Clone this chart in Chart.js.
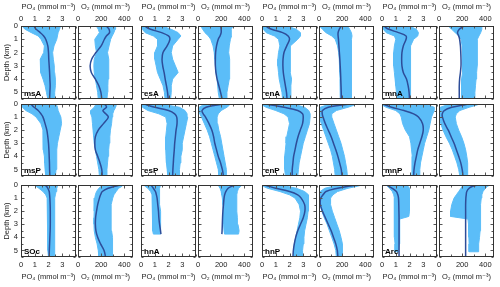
<!DOCTYPE html>
<html lang="en">
<head>
<meta charset="UTF-8">
<title>PO4 and O2 profiles by region</title>
<script src="https://cdn.jsdelivr.net/npm/chart.js"></script>
<style>
  body { margin: 0; background: #fff; }
  #wrap { position: relative; width: 500px; height: 287px; overflow: hidden; }
  #wrap canvas { position: absolute; }
</style>
</head>
<body>
<div id="wrap"></div>
<script>
// depth levels in km
const depth    = [0, 0.1, 0.25, 0.5, 0.75, 1, 1.5, 2, 2.5, 3, 3.5, 4, 4.5, 5, 5.5];
const depthHnA = [0, 0.1, 0.25, 0.5, 0.75, 1, 1.5, 2, 2.5, 3, 3.5, 3.75];
const depthArc = [0, 0.1, 0.25, 0.5, 0.75, 1, 1.5, 2, 2.4, 2.6, 3, 3.5, 4, 4.5, 5, 5.1];

// tick labels
const depthTicks = [0, 1, 2, 3, 4, 5];
const po4Ticks = [0, 1, 2, 3];
const o2Ticks = [0, 200, 400];

// mean profile (line) and spread of observations (lo/hi) per region
const msA_po4    = [0.95, 1.0, 1.1, 1.4, 1.65, 1.8, 1.95, 2.0, 2.02, 2.05, 2.08, 2.1, 2.12, 2.1, 2.08];
const msA_po4_lo = [0.1, 0.15, 0.3, 0.75, 1.25, 1.45, 1.7, 1.65, 1.4, 1.4, 1.45, 1.6, 1.75, 1.85, 1.95];
const msA_po4_hi = [2.85, 2.85, 2.8, 2.7, 2.65, 2.6, 2.4, 2.3, 2.35, 2.42, 2.45, 2.5, 2.5, 2.45, 2.42];
const msA_o2     = [247, 255, 268, 272, 245, 228, 200, 155, 118, 105, 115, 150, 180, 198, 205];
const msA_o2_lo  = [160, 165, 175, 185, 165, 145, 150, 160, 140, 137, 140, 150, 160, 170, 175];
const msA_o2_hi  = [330, 325, 320, 310, 295, 282, 268, 255, 265, 267, 265, 260, 258, 255, 250];

const esA_po4    = [0.3, 0.4, 0.7, 1.5, 2.0, 2.1, 1.9, 1.6, 1.53, 1.58, 1.68, 1.76, 1.85, 1.93, 1.98];
const esA_po4_lo = [0.05, 0.05, 0.1, 0.3, 0.9, 1.2, 1.2, 1.0, 1.0, 1.1, 1.2, 1.4, 1.6, 1.7, 1.75];
const esA_po4_hi = [1.6, 1.8, 2.2, 2.7, 2.9, 2.7, 2.3, 2.2, 2.3, 2.5, 2.7, 2.3, 2.2, 2.2, 2.15];
const esA_o2     = [198, 198, 200, 200, 190, 175, 160, 152, 150, 150, 155, 165, 180, 195, 208];
const esA_o2_lo  = [20, 30, 40, 60, 90, 110, 130, 140, 145, 150, 155, 165, 170, 175, 185];
const esA_o2_hi  = [300, 295, 290, 285, 290, 280, 270, 265, 270, 275, 275, 270, 260, 250, 245];

const enA_po4    = [0.3, 0.4, 0.7, 1.5, 1.9, 2.0, 1.8, 1.6, 1.53, 1.52, 1.55, 1.62, 1.7, 1.78, 1.82];
const enA_po4_lo = [0.02, 0.05, 0.1, 0.3, 0.9, 1.2, 1.3, 1.2, 1.15, 1.15, 1.2, 1.25, 1.35, 1.45, 1.5];
const enA_po4_hi = [1.9, 2.1, 2.5, 2.8, 2.8, 2.6, 2.1, 2.05, 2.05, 2.05, 2.05, 2.15, 2.1, 2.1, 2.05];
const enA_o2     = [190, 185, 175, 165, 165, 168, 172, 176, 180, 183, 186, 188, 190, 192, 193];
const enA_o2_lo  = [10, 15, 30, 60, 110, 140, 160, 170, 175, 178, 180, 182, 185, 185, 185];
const enA_o2_hi  = [250, 255, 265, 280, 285, 280, 278, 278, 280, 280, 282, 282, 282, 282, 280];

const mnA_po4    = [0.2, 0.25, 0.5, 1.2, 1.75, 1.75, 1.55, 1.45, 1.43, 1.45, 1.55, 1.78, 1.9, 1.97, 2.0];
const mnA_po4_lo = [0.05, 0.05, 0.1, 0.3, 0.9, 1.0, 0.9, 0.85, 0.85, 0.85, 0.9, 0.95, 1.0, 1.05, 1.1];
const mnA_po4_hi = [2.0, 2.2, 2.5, 2.65, 2.6, 2.3, 2.1, 2.05, 2.05, 2.05, 2.08, 2.1, 2.1, 2.08, 2.05];
const mnA_o2     = [215, 200, 175, 160, 170, 178, 185, 188, 190, 190, 185, 178, 175, 175, 175];
const mnA_o2_lo  = [80, 90, 110, 140, 170, 190, 200, 205, 205, 205, 200, 195, 195, 195, 195];
const mnA_o2_hi  = [360, 370, 370, 360, 345, 335, 330, 330, 330, 330, 325, 320, 315, 310, 305];

const msP_po4    = [0.75, 0.8, 0.95, 1.25, 1.45, 1.6, 1.75, 1.88, 1.95, 2.0, 2.03, 2.05, 2.07, 2.08, 2.1];
const msP_po4_lo = [0.02, 0.05, 0.1, 0.35, 0.8, 1.1, 1.45, 1.6, 1.6, 1.62, 1.65, 1.7, 1.72, 1.75, 1.8];
const msP_po4_hi = [2.55, 2.6, 2.65, 2.7, 2.8, 2.9, 2.95, 2.85, 2.75, 2.65, 2.6, 2.6, 2.6, 2.55, 2.5];
const msP_o2     = [225, 240, 245, 215, 240, 262, 220, 175, 150, 145, 150, 170, 190, 205, 210];
const msP_o2_lo  = [150, 150, 140, 110, 110, 120, 125, 130, 135, 140, 150, 160, 170, 180, 185];
const msP_o2_hi  = [330, 330, 325, 310, 300, 295, 290, 280, 275, 270, 265, 260, 255, 250, 245];

const esP_po4    = [0.3, 0.5, 1.0, 2.0, 2.45, 2.6, 2.62, 2.55, 2.5, 2.45, 2.42, 2.38, 2.35, 2.32, 2.3];
const esP_po4_lo = [0.02, 0.05, 0.1, 0.5, 1.3, 1.8, 1.9, 1.85, 1.8, 1.8, 1.8, 1.82, 1.85, 1.9, 1.95];
const esP_po4_hi = [1.5, 2.0, 2.8, 3.2, 3.35, 3.4, 3.3, 3.2, 3.1, 3.0, 3.0, 2.9, 2.85, 2.8, 2.8];
const esP_o2     = [215, 150, 70, 35, 45, 65, 95, 120, 135, 145, 160, 175, 195, 210, 220];
const esP_o2_lo  = [100, 40, 10, 5, 15, 30, 55, 80, 100, 115, 130, 145, 160, 175, 180];
const esP_o2_hi  = [280, 270, 250, 200, 175, 165, 170, 180, 195, 205, 215, 225, 235, 245, 250];

const enP_po4    = [0.3, 0.8, 1.6, 2.6, 2.95, 3.0, 2.95, 2.78, 2.62, 2.5, 2.4, 2.3, 2.25, 2.2, 2.2];
const enP_po4_lo = [0.02, 0.05, 0.3, 1.0, 1.6, 1.9, 2.0, 1.9, 1.8, 1.75, 1.7, 1.65, 1.65, 1.65, 1.7];
const enP_po4_hi = [2.0, 2.6, 3.1, 3.4, 3.5, 3.5, 3.45, 3.3, 3.15, 3.0, 2.9, 2.8, 2.7, 2.65, 2.6];
const enP_o2     = [260, 180, 80, 30, 28, 35, 55, 80, 105, 125, 145, 163, 178, 192, 198];
const enP_o2_lo  = [150, 60, 10, 0, 0, 5, 20, 40, 60, 80, 100, 115, 125, 135, 140];
const enP_o2_hi  = [320, 300, 250, 150, 110, 110, 130, 150, 170, 190, 205, 220, 230, 240, 245];

const mnP_po4    = [0.1, 0.3, 0.7, 1.6, 2.3, 2.65, 2.95, 3.0, 2.9, 2.75, 2.6, 2.5, 2.4, 2.33, 2.3];
const mnP_po4_lo = [0.02, 0.05, 0.3, 1.0, 1.3, 1.4, 1.5, 1.7, 2.0, 2.1, 2.15, 2.2, 2.2, 2.2, 2.2];
const mnP_po4_hi = [2.5, 3.4, 3.8, 3.8, 3.7, 3.6, 3.5, 3.4, 3.25, 3.1, 3.0, 2.9, 2.8, 2.75, 2.7];
const mnP_o2     = [250, 200, 110, 45, 28, 30, 50, 80, 105, 130, 150, 170, 188, 200, 208];
const mnP_o2_lo  = [180, 60, 10, 0, 0, 5, 15, 35, 60, 90, 115, 135, 155, 170, 180];
const mnP_o2_hi  = [350, 320, 260, 180, 150, 140, 150, 170, 195, 215, 230, 240, 245, 250, 250];

const SOc_po4    = [1.75, 1.85, 1.95, 2.05, 2.08, 2.1, 2.12, 2.13, 2.13, 2.13, 2.12, 2.1, 2.08, 2.06, 2.05];
const SOc_po4_lo = [1.0, 1.1, 1.3, 1.6, 1.8, 1.9, 1.95, 1.95, 1.95, 1.95, 1.95, 1.95, 1.95, 1.95, 2.0];
const SOc_po4_hi = [2.7, 2.65, 2.6, 2.55, 2.5, 2.45, 2.45, 2.45, 2.45, 2.45, 2.45, 2.45, 2.45, 2.45, 2.45];
const SOc_o2     = [360, 320, 260, 210, 195, 185, 170, 160, 152, 150, 155, 170, 195, 225, 238];
const SOc_o2_lo  = [250, 200, 180, 160, 150, 145, 140, 140, 138, 138, 140, 150, 165, 175, 180];
const SOc_o2_hi  = [390, 380, 350, 330, 310, 300, 290, 285, 285, 285, 290, 295, 300, 300, 295];

const hnA_po4    = [0.75, 0.8, 0.9, 1.05, 1.12, 1.17, 1.22, 1.27, 1.3, 1.35, 1.42, 1.45];
const hnA_po4_lo = [0.2, 0.3, 0.5, 0.7, 0.8, 0.85, 0.85, 0.85, 0.85, 0.85, 0.85, 0.9];
const hnA_po4_hi = [1.4, 1.4, 1.35, 1.35, 1.35, 1.35, 1.35, 1.4, 1.4, 1.45, 1.45, 1.4];
const hnA_o2     = [320, 290, 260, 240, 230, 225, 220, 215, 212, 210, 208, 206];
const hnA_o2_lo  = [170, 180, 190, 200, 205, 210, 215, 218, 220, 222, 225, 230];
const hnA_o2_hi  = [380, 370, 350, 340, 335, 335, 335, 335, 340, 345, 355, 350];

const hnP_po4    = [0.2, 0.5, 1.0, 2.0, 2.6, 2.85, 3.1, 3.12, 3.0, 2.8, 2.6, 2.45, 2.35, 2.28, 2.25];
const hnP_po4_lo = [0.0, 0.1, 0.4, 1.3, 2.0, 2.4, 2.7, 2.8, 2.75, 2.65, 2.55, 2.45, 2.35, 2.3, 2.3];
const hnP_po4_hi = [1.2, 1.8, 2.5, 3.1, 3.35, 3.4, 3.4, 3.35, 3.3, 3.2, 3.1, 3.05, 3.0, 2.95, 2.95];
const hnP_o2     = [330, 250, 160, 60, 35, 15, 12, 30, 55, 80, 105, 125, 145, 158, 163];
const hnP_o2_lo  = [200, 120, 50, 10, 5, 5, 10, 25, 45, 70, 90, 110, 130, 145, 150];
const hnP_o2_hi  = [370, 330, 250, 160, 120, 100, 100, 115, 135, 155, 175, 190, 200, 205, 205];

const Arc_po4    = [0.35, 0.5, 0.75, 1.05, 1.15, 1.2, 1.22, 1.23, 1.24, 1.24, 1.24, 1.24, 1.24, 1.24, 1.24];
const Arc_po4_lo = [0.3, 0.4, 0.55, 0.75, 0.85, 0.9, 0.9, 0.9, 0.9, 0.9, 0.9, 0.9, 0.92, 0.95, 0.95, 0.95];
const Arc_po4_hi = [1.8, 1.9, 2.0, 2.0, 2.0, 2.0, 2.0, 2.0, 1.95, 1.3, 1.3, 1.3, 1.25, 1.25, 1.2, 1.2];
const Arc_o2     = [330, 290, 260, 240, 235, 232, 230, 230, 230, 230, 230, 230, 230, 230, 230];
const Arc_o2_lo  = [210, 200, 190, 170, 150, 130, 110, 100, 100, 250, 255, 258, 258, 260, 260, 260];
const Arc_o2_hi  = [440, 420, 400, 380, 370, 365, 360, 360, 360, 360, 355, 355, 350, 345, 340, 340];

// grid of regions, row by row
const panels = [
  { name: 'msA', ld: depth, cd: depth, po4: [msA_po4, msA_po4_lo, msA_po4_hi], o2: [msA_o2, msA_o2_lo, msA_o2_hi] },
  { name: 'esA', ld: depth, cd: depth, po4: [esA_po4, esA_po4_lo, esA_po4_hi], o2: [esA_o2, esA_o2_lo, esA_o2_hi] },
  { name: 'enA', ld: depth, cd: depth, po4: [enA_po4, enA_po4_lo, enA_po4_hi], o2: [enA_o2, enA_o2_lo, enA_o2_hi] },
  { name: 'mnA', ld: depth, cd: depth, po4: [mnA_po4, mnA_po4_lo, mnA_po4_hi], o2: [mnA_o2, mnA_o2_lo, mnA_o2_hi] },
  { name: 'msP', ld: depth, cd: depth, po4: [msP_po4, msP_po4_lo, msP_po4_hi], o2: [msP_o2, msP_o2_lo, msP_o2_hi] },
  { name: 'esP', ld: depth, cd: depth, po4: [esP_po4, esP_po4_lo, esP_po4_hi], o2: [esP_o2, esP_o2_lo, esP_o2_hi] },
  { name: 'enP', ld: depth, cd: depth, po4: [enP_po4, enP_po4_lo, enP_po4_hi], o2: [enP_o2, enP_o2_lo, enP_o2_hi] },
  { name: 'mnP', ld: depth, cd: depth, po4: [mnP_po4, mnP_po4_lo, mnP_po4_hi], o2: [mnP_o2, mnP_o2_lo, mnP_o2_hi] },
  { name: 'SOc', ld: depth, cd: depth, po4: [SOc_po4, SOc_po4_lo, SOc_po4_hi], o2: [SOc_o2, SOc_o2_lo, SOc_o2_hi] },
  { name: 'hnA', ld: depthHnA, cd: depthHnA, po4: [hnA_po4, hnA_po4_lo, hnA_po4_hi], o2: [hnA_o2, hnA_o2_lo, hnA_o2_hi] },
  { name: 'hnP', ld: depth, cd: depth, po4: [hnP_po4, hnP_po4_lo, hnP_po4_hi], o2: [hnP_o2, hnP_o2_lo, hnP_o2_hi] },
  { name: 'Arc', ld: depth, cd: depthArc, po4: [Arc_po4, Arc_po4_lo, Arc_po4_hi], o2: [Arc_o2, Arc_o2_lo, Arc_o2_hi] }
];

// layout
const colLeft = [21, 141, 262, 382];
const rowTop = [26, 104, 185];
const rowH = [73, 72, 72];
const subW = 55, subGap = 2, pageH = 287, m = 8;

const cloudColor = '#5bbdf8';
const lineColor = '#2d4d99';
const fontFam = "'Liberation Sans', Arial, 'DejaVu Sans', sans-serif";
const txt = '#222';

function pts(vals, dep) {
    return vals.map((v, i) => ({ x: v, y: dep[i] }));
}

function makeFrame(label, xMax, xStep, xMajor) {
    return {
        id: 'frame',
        afterDatasetsDraw(chart) {
            const { ctx, chartArea: a, scales } = chart;
            const L = Math.round(a.left) + 0.5, R = Math.round(a.right) - 0.5;
            const T = Math.round(a.top) + 0.5, B = Math.round(a.bottom) - 0.5;
            ctx.save();
            ctx.strokeStyle = '#555';
            ctx.lineWidth = 1;
            ctx.beginPath();
            for (let v = 0; v <= xMax + 1e-9; v += xStep) {
                const p = Math.round(scales.x.getPixelForValue(v)) + 0.5;
                const len = xMajor.includes(v) ? 3 : 2;
                ctx.moveTo(p, T); ctx.lineTo(p, T + len);
                ctx.moveTo(p, B); ctx.lineTo(p, B - len);
            }
            for (let d = 0; d <= 5.5; d += 0.5) {
                const p = Math.round(scales.y.getPixelForValue(d)) + 0.5;
                const len = Number.isInteger(d) ? 3 : 2;
                ctx.moveTo(L, p); ctx.lineTo(L + len, p);
                ctx.moveTo(R, p); ctx.lineTo(R - len, p);
            }
            ctx.stroke();
            ctx.strokeStyle = '#333';
            ctx.strokeRect(L, T, R - L, B - T);
            if (label) {
                ctx.font = 'bold 8px ' + fontFam;
                ctx.fillStyle = '#000';
                ctx.textBaseline = 'alphabetic';
                ctx.fillText(label, a.left + 3, a.bottom - 3);
            }
            ctx.restore();
        }
    };
}

function addPanel(p, row, col, sub) {
    const isPO4 = sub === 0;
    const left = colLeft[col] + (isPO4 ? 0 : subW + subGap);
    const top = rowTop[row], h = rowH[row];
    const showY = col === 0 && isPO4;
    const showTop = row === 0, showBottom = row === 2;
    const mL = showY ? left : m;
    const mT = showTop ? top : m;
    const mB = showBottom ? pageH - (top + h) : m;
    const mR = m;

    const cv = document.createElement('canvas');
    cv.width = subW + mL + mR;
    cv.height = h + mT + mB;
    cv.style.left = (left - mL) + 'px';
    cv.style.top = (top - mT) + 'px';
    document.getElementById('wrap').appendChild(cv);

    const series = isPO4 ? p.po4 : p.o2;
    const xMax = isPO4 ? 4 : 475;
    const xTicks = isPO4 ? po4Ticks : o2Ticks;
    const xTitle = isPO4 ? 'PO\u2084 (mmol m\u207B\u00B3)' : 'O\u2082 (mmol m\u207B\u00B3)';

    const profile = {
        data: pts(series[0], p.ld),
        borderColor: lineColor,
        borderWidth: 1.5,
        pointRadius: 0,
        tension: 0.35,
        fill: false,
        order: 1,
        clip: 0
    };
    const cloud = {
        data: pts(series[1], p.cd).concat(pts(series[2], p.cd).reverse()),
        borderColor: cloudColor,
        backgroundColor: cloudColor,
        borderWidth: 1,
        pointRadius: 0,
        tension: 0,
        fill: 'shape',
        order: 2,
        clip: 0
    };

    const tickFont = { family: fontFam, size: 7.5 };

    new Chart(cv, {
        type: 'line',
        data: { datasets: [profile, cloud] },
        options: {
            responsive: false,
            animation: false,
            devicePixelRatio: 1,
            events: [],
            layout: {
                padding: {
                    left: showY ? 0 : mL,
                    top: showTop ? 0 : mT,
                    right: mR,
                    bottom: showBottom ? 0 : mB
                }
            },
            plugins: { legend: { display: false }, tooltip: { enabled: false } },
            scales: {
                x: {
                    type: 'linear',
                    position: showBottom ? 'bottom' : 'top',
                    min: 0,
                    max: xMax,
                    display: showTop || showBottom,
                    grid: { display: false, drawTicks: false },
                    border: { display: false },
                    ticks: { color: txt, font: tickFont, padding: 3, maxRotation: 0 },
                    title: {
                        display: true,
                        text: xTitle,
                        color: txt,
                        font: tickFont,
                        padding: showTop ? { top: 2, bottom: 0 } : { top: 0, bottom: 6 }
                    },
                    afterBuildTicks: s => { s.ticks = xTicks.map(v => ({ value: v })); },
                    afterFit: s => { s.height = showTop ? mT : (showBottom ? mB : 0); }
                },
                y: {
                    type: 'linear',
                    reverse: true,
                    min: 0,
                    max: 5.5,
                    display: showY,
                    grid: { display: false, drawTicks: false },
                    border: { display: false },
                    ticks: { color: txt, font: tickFont, padding: 3 },
                    title: { display: true, text: 'Depth (km)', color: txt, font: tickFont, padding: { top: 2, bottom: 0 } },
                    afterBuildTicks: s => { s.ticks = depthTicks.map(v => ({ value: v })); },
                    afterFit: s => { s.width = showY ? mL : 0; }
                }
            }
        },
        plugins: [makeFrame(isPO4 ? p.name : null, xMax, isPO4 ? 0.5 : 100, xTicks)]
    });
}

panels.forEach((p, i) => {
    const row = Math.floor(i / 4), col = i % 4;
    addPanel(p, row, col, 0);
    addPanel(p, row, col, 1);
});
</script>
</body>
</html>
